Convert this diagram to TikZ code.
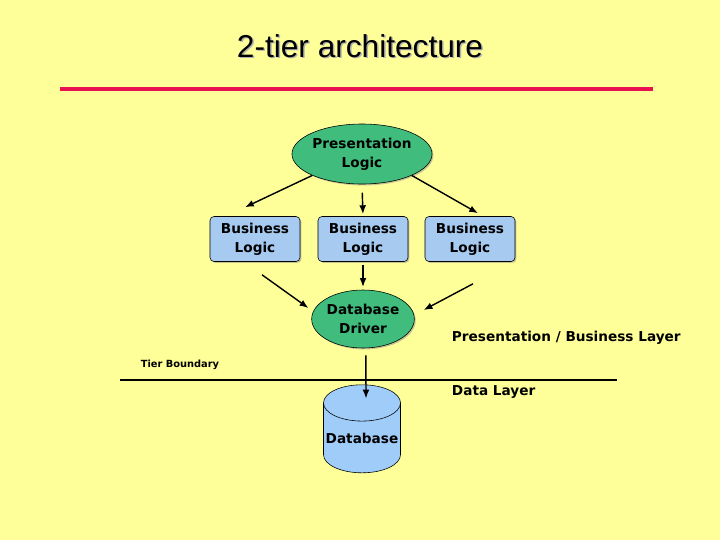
\documentclass[tikz,border=0pt]{standalone}
\usepackage{fontspec}
\setmainfont{DejaVu Sans}
\newfontfamily\titlefont{Liberation Sans}
\usetikzlibrary{positioning,arrows.meta,calc,shapes.geometric,shadows}
\definecolor{slidebg}{RGB}{255,255,153}
\definecolor{rulered}{RGB}{232,16,80}
\definecolor{logicgreen}{RGB}{64,188,124}
\definecolor{boxblue}{RGB}{166,202,240}
\definecolor{dbblue}{RGB}{160,204,250}

\begin{document}
\begin{tikzpicture}[>=Latex,x=0.025cm,y=-0.025cm,
  lbl/.style={font=\bfseries\fontsize{9.7}{13.5}\selectfont},
  oval/.style={lbl,ellipse,draw,fill=logicgreen,align=center,inner sep=0pt,
    drop shadow={shadow xshift=1pt,shadow yshift=-1pt,fill=black!45}},
  logicbox/.style={lbl,rectangle,rounded corners=0.1cm,draw,fill=boxblue,align=center,
    minimum width=2.25cm,minimum height=1.125cm,inner sep=0pt,
    drop shadow={shadow xshift=1pt,shadow yshift=-1pt,fill=black!45}},
  arr/.style={->,line width=1pt,>={Latex[length=2.2mm,width=1.7mm]}}]
  \fill[slidebg] (0,0) rectangle (720,540);
  % title with its shadow
  \node[font=\titlefont\fontsize{22.5}{26}\selectfont,text=black!30] (titleshade) at (361.5,47.5) {2-tier architecture};
  \node[font=\titlefont\fontsize{22.5}{26}\selectfont] (title) at (360,46) {2-tier architecture};
  \draw[rulered,line width=3.5pt] (60,89) -- (653,89);

  % presentation / business layer
  \node[oval,minimum width=2.7cm,minimum height=1.5cm] (pl) at (362,154) {Presentation\\Logic};
  \node[logicbox] (bl1) at (255,239) {Business\\Logic};
  \node[logicbox] (bm) at (363,239) {Business\\Logic};
  \node[logicbox] (br) at (470,239) {Business\\Logic};
  \node[oval,minimum width=2.4cm,minimum height=1.45cm] (dd) at (363,319) {Database\\Driver};

  % data layer
  \node[lbl,cylinder,shape border rotate=90,draw,fill=dbblue,aspect=0.5,
    minimum width=1.925cm,minimum height=2.2cm,inner sep=0pt] (db) at (362,438) {Database};

  \draw[arr] (pl.south west) -- ([shift={(-10,-9)}]bl1.north);
  \draw[arr,shorten <=6pt,shorten >=1.5pt] (pl.south) -- (bm.north);
  \draw[arr] (pl.south east) -- ([shift={(8,-3)}]br.north);
  \draw[arr,shorten <=2pt,shorten >=2pt] (bm.south) -- (dd.north);
  \draw[arr] ([shift={(7,13)}]bl1.south) -- ([shift={(-3,-11)}]dd.west);
  \draw[arr] ([shift={(3,22)}]br.south) -- ([shift={(9,-9)}]dd.east);
  \draw[arr,shorten <=5pt] ([xshift=2pt]dd.south) -- ([shift={(4,14)}]db.north);

  % tier boundary
  \draw[line width=1.2pt] (120,380) -- (617,380);
  \node[font=\bfseries\fontsize{7}{8}\selectfont] (tb) at (180,365) {Tier Boundary};
  \node[lbl,right] (pbl) at (447,338) {Presentation / Business Layer};
  \node[lbl,right] (dl) at (447,392) {Data Layer};
\end{tikzpicture}
\end{document}
